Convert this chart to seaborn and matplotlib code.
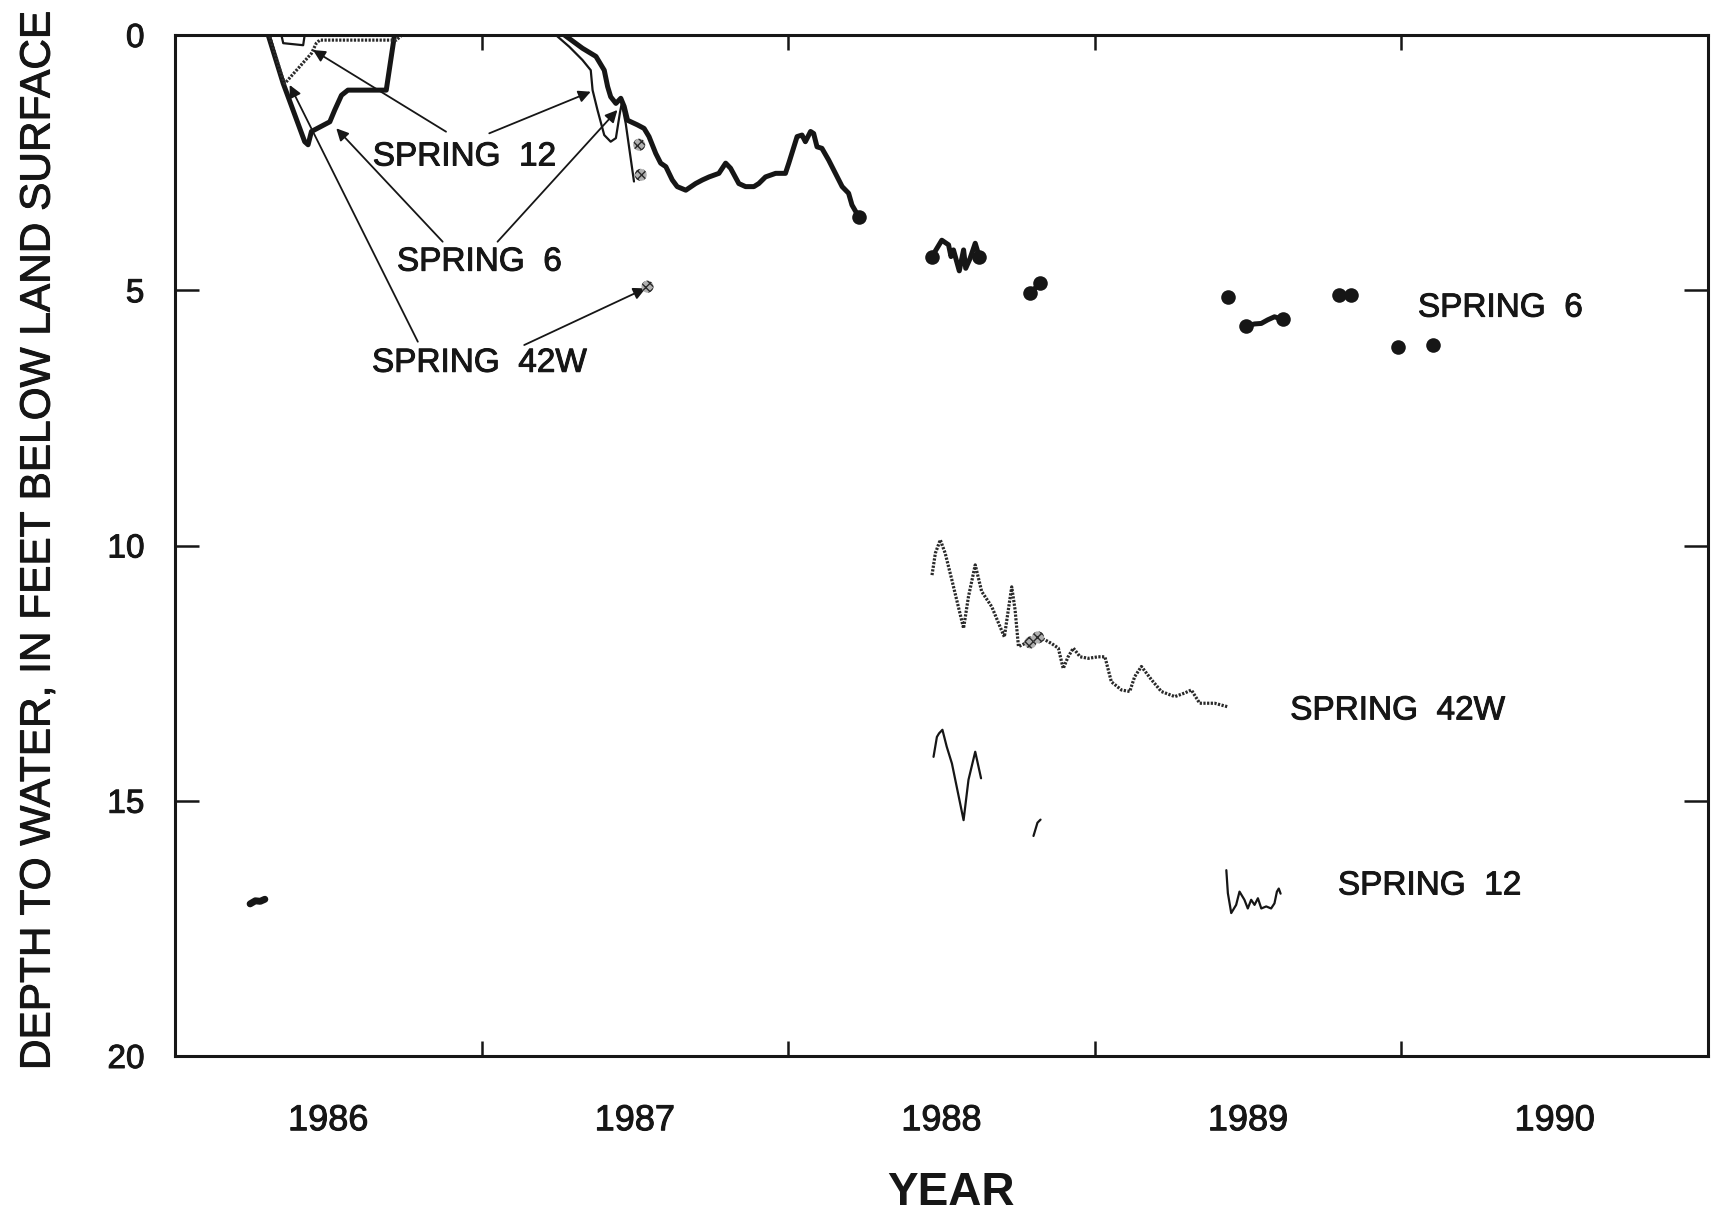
import numpy as np
import pandas as pd
import matplotlib
matplotlib.use("Agg")
import matplotlib.pyplot as plt
import matplotlib.patheffects as pe
from matplotlib import font_manager
from matplotlib.ticker import FixedLocator, NullFormatter, FixedFormatter
import seaborn as sns

# ---------------------------------------------------------------------------
# Depth to water (feet below land surface) at three springs, decimal years
# ---------------------------------------------------------------------------

# Spring 6 -- continuous record segments
S6_1986_YR = [1986.304, 1986.353, 1986.423, 1986.434, 1986.445, 1986.505,
              1986.521, 1986.543, 1986.564, 1986.689, 1986.716]
S6_1986_FT = [0.0, 0.95, 2.09, 2.15, 1.89, 1.70, 1.47, 1.18, 1.08, 1.08, 0.0]

S6_1987_YR = [1987.270, 1987.329, 1987.373, 1987.400, 1987.411, 1987.421,
              1987.438, 1987.454, 1987.465, 1987.476, 1987.508, 1987.530,
              1987.546, 1987.568, 1987.584, 1987.601, 1987.622, 1987.638,
              1987.666, 1987.698, 1987.720, 1987.742, 1987.774, 1987.796,
              1987.812, 1987.839, 1987.861, 1987.888, 1987.904, 1987.926,
              1987.959, 1987.991, 1988.002, 1988.029, 1988.045, 1988.056,
              1988.073, 1988.083, 1988.094, 1988.110, 1988.132, 1988.154,
              1988.176, 1988.197, 1988.208, 1988.230]
S6_1987_FT = [0.0, 0.26, 0.42, 0.69, 1.01, 1.21, 1.34, 1.24, 1.40, 1.67,
              1.76, 1.83, 1.99, 2.32, 2.51, 2.58, 2.84, 2.97, 3.04, 2.91,
              2.84, 2.78, 2.71, 2.51, 2.61, 2.91, 2.97, 2.97, 2.91, 2.78,
              2.71, 2.71, 2.51, 1.99, 1.96, 2.09, 1.89, 1.93, 2.19, 2.22,
              2.45, 2.71, 2.97, 3.10, 3.33, 3.56]

S6_1988A_YR = [1988.469, 1988.501, 1988.523, 1988.531, 1988.539, 1988.558,
               1988.572, 1988.579, 1988.593, 1988.610, 1988.623]
S6_1988A_FT = [4.34, 4.02, 4.11, 4.34, 4.21, 4.62, 4.21, 4.57, 4.38, 4.08, 4.34]

S6_1988B_YR = [1988.789, 1988.821]
S6_1988B_FT = [5.06, 4.86]

S6_1989A_YR = [1989.494, 1989.521, 1989.543, 1989.564, 1989.586, 1989.613]
S6_1989A_FT = [5.70, 5.66, 5.65, 5.58, 5.52, 5.57]

S6_1989B_YR = [1989.798, 1989.836]
S6_1989B_FT = [5.09, 5.09]

# Spring 6 -- individual measurements shown as dots
S6_DOT_YR = [1988.230, 1988.469, 1988.623, 1988.789, 1988.821, 1989.434,
             1989.494, 1989.613, 1989.798, 1989.836, 1989.988, 1990.102]
S6_DOT_FT = [3.56, 4.34, 4.34, 5.06, 4.86, 5.13,
             5.70, 5.57, 5.09, 5.09, 6.11, 6.07]

# Spring 12 -- thin solid record
S12_1986A_YR = [1986.245, 1986.262, 1986.278, 1986.293]
S12_1986A_FT = [17.02, 16.96, 16.97, 16.93]

S12_1986B_YR = [1986.347, 1986.353, 1986.418, 1986.423]
S12_1986B_FT = [0.0, 0.16, 0.20, 0.0]

S12_1987_YR = [1987.242, 1987.286, 1987.329, 1987.356, 1987.362, 1987.378,
               1987.400, 1987.421, 1987.438, 1987.451, 1987.457, 1987.470,
               1987.497]
S12_1987_FT = [0.0, 0.23, 0.49, 0.69, 1.08, 1.47, 1.96, 2.09, 2.02, 1.53,
               1.34, 1.73, 2.87]

S12_1988A_YR = [1988.474, 1988.485, 1988.492, 1988.503, 1988.517, 1988.534,
                1988.572, 1988.588, 1988.610, 1988.629]
S12_1988A_FT = [14.14, 13.75, 13.68, 13.61, 13.94, 14.27, 15.38, 14.59,
                14.04, 14.56]

S12_1988B_YR = [1988.800, 1988.813, 1988.823]
S12_1988B_FT = [15.69, 15.43, 15.37]

S12_1989_YR = [1989.429, 1989.434, 1989.445, 1989.461, 1989.472, 1989.488,
               1989.499, 1989.510, 1989.521, 1989.532, 1989.543, 1989.559,
               1989.575, 1989.586, 1989.594, 1989.600, 1989.606]
S12_1989_FT = [16.36, 16.81, 17.20, 17.04, 16.78, 16.94, 17.11, 16.94,
               17.04, 16.91, 17.11, 17.07, 17.11, 17.01, 16.78, 16.72, 16.82]

# Spring 42W -- fine dotted record
S42_1986_YR = [1986.309, 1986.347, 1986.358, 1986.445, 1986.461, 1986.472,
               1986.722, 1986.740]
S42_1986_FT = [0.03, 0.78, 0.95, 0.36, 0.16, 0.10, 0.10, 0.0]

S42_1988_YR = [1988.469, 1988.480, 1988.496, 1988.512, 1988.534, 1988.555,
               1988.572, 1988.588, 1988.610, 1988.631, 1988.664, 1988.686,
               1988.705, 1988.729, 1988.740, 1988.751, 1988.772, 1988.794,
               1988.816, 1988.838, 1988.859, 1988.881, 1988.897, 1988.913,
               1988.930, 1988.952, 1988.979, 1989.011, 1989.033, 1989.054,
               1989.087, 1989.114, 1989.130, 1989.152, 1989.185, 1989.217,
               1989.261, 1989.293, 1989.315, 1989.342, 1989.391, 1989.434]
S42_1988_FT = [10.58, 10.15, 9.89, 10.15, 10.68, 11.20, 11.62, 11.00, 10.38,
               10.90, 11.20, 11.52, 11.79, 10.81, 11.26, 11.98, 11.92, 11.85,
               11.79, 11.85, 11.92, 12.01, 12.41, 12.18, 12.01, 12.18, 12.21,
               12.18, 12.18, 12.67, 12.83, 12.86, 12.57, 12.37, 12.63, 12.86,
               12.96, 12.89, 12.83, 13.09, 13.09, 13.16]

# Spring 42W -- individual measurements
S42_DOT_YR = [1987.514, 1987.519, 1987.541, 1988.790, 1988.815]
S42_DOT_FT = [2.15, 2.74, 4.93, 11.90, 11.80]

# Axis ticks and labels
YEAR_BOUNDS = [1987, 1988, 1989, 1990]
YEAR_MIDS = [1986.5, 1987.5, 1988.5, 1989.5, 1990.5]
YEAR_LABELS = ["1986", "1987", "1988", "1989", "1990"]
DEPTH_TICKS = [0, 5, 10, 15, 20]

# Series labels: (text, x, y) and leader arrows: (text-end xy, arrow tip xy)
SERIES_LABELS = [
    ("SPRING  12", 1986.944, 2.39),
    ("SPRING  6", 1986.993, 4.45),
    ("SPRING  42W", 1986.993, 6.43),
    ("SPRING  6", 1990.323, 5.35),
    ("SPRING  42W", 1989.988, 13.24),
    ("SPRING  12", 1990.092, 16.67),
]
LEADERS = [
    ((1986.884, 1.894), (1986.450, 0.294)),
    ((1987.025, 1.926), (1987.356, 1.111)),
    ((1986.873, 4.049), (1986.526, 1.828)),
    ((1987.052, 4.049), (1987.443, 1.469)),
    ((1986.792, 6.008), (1986.374, 0.979)),
    ((1987.139, 6.073), (1987.535, 4.962)),
]

# ---------------------------------------------------------------------------
sns.set_style("white")
available = {f.name for f in font_manager.fontManager.ttflist}
SANS = "Liberation Sans" if "Liberation Sans" in available else "DejaVu Sans"
plt.rcParams["font.family"] = [SANS, "DejaVu Sans"]

INK = "#161616"
HEAVY = [pe.withStroke(linewidth=0.7, foreground=INK)]

fig = plt.figure(figsize=(17.11, 12.12), dpi=100)
fig.patch.set_facecolor("white")
ax = fig.add_axes([175 / 1711, 1 - 1056 / 1212, (1708 - 175) / 1711, (1056 - 35) / 1212])


def draw(xs, ys, **kw):
    sns.lineplot(x=xs, y=ys, sort=False, estimator=None, ax=ax, legend=False,
                 color=kw.pop("color", INK), **kw)


# Spring 6: heavy line
for xs, ys in [(S6_1986_YR, S6_1986_FT), (S6_1987_YR, S6_1987_FT),
               (S6_1988A_YR, S6_1988A_FT), (S6_1988B_YR, S6_1988B_FT),
               (S6_1989A_YR, S6_1989A_FT), (S6_1989B_YR, S6_1989B_FT)]:
    draw(xs, ys, linewidth=3.6, solid_joinstyle="round")
sns.scatterplot(x=S6_DOT_YR, y=S6_DOT_FT, ax=ax, color=INK, s=110,
                edgecolor=INK, linewidth=0, legend=False, zorder=4)

# Spring 12: thin solid line
for xs, ys in [(S12_1986B_YR, S12_1986B_FT), (S12_1987_YR, S12_1987_FT),
               (S12_1988A_YR, S12_1988A_FT), (S12_1988B_YR, S12_1988B_FT),
               (S12_1989_YR, S12_1989_FT)]:
    draw(xs, ys, linewidth=1.6)
draw(S12_1986A_YR, S12_1986A_FT, linewidth=5, solid_capstyle="round")

# Spring 42W: fine serrated (dotted) line with hatched point symbols
for xs, ys in [(S42_1986_YR, S42_1986_FT), (S42_1988_YR, S42_1988_FT)]:
    draw(xs, ys, linewidth=2.3, linestyle=(0, (0.7, 0.45)), color="#2a2a2a")
sns.scatterplot(x=S42_DOT_YR, y=S42_DOT_FT, ax=ax, s=75, facecolor="#b0b0b0",
                edgecolor="#2a2a2a", hatch="xxxx", linewidth=0,
                legend=False, zorder=4)

# Series labels and leader arrows
for text, x, y in SERIES_LABELS:
    ax.text(x, y, text, ha="center", va="center", fontsize=24, color=INK,
            path_effects=HEAVY)
for (x0, y0), (x1, y1) in LEADERS:
    ax.annotate("", xy=(x1, y1), xytext=(x0, y0),
                arrowprops=dict(arrowstyle="-|>", lw=1.3, color=INK,
                                mutation_scale=18, shrinkA=0, shrinkB=0))

# Axes limits, ticks and labels
ax.set_xlim(1986, 1991)
ax.set_ylim(20, 0)

ax.xaxis.set_major_locator(FixedLocator(YEAR_BOUNDS))
ax.xaxis.set_major_formatter(NullFormatter())
ax.xaxis.set_minor_locator(FixedLocator(YEAR_MIDS))
ax.xaxis.set_minor_formatter(FixedFormatter(YEAR_LABELS))
ax.tick_params(axis="x", which="major", direction="in", top=True, bottom=True,
               length=11, width=1.8, color=INK)
ax.tick_params(axis="x", which="minor", length=0, pad=34, labelsize=26,
               labelcolor=INK)

ax.set_yticks(DEPTH_TICKS)
ax.set_yticklabels([str(v) for v in DEPTH_TICKS])
ax.tick_params(axis="y", direction="in", left=True, right=True, length=17,
               width=1.8, color=INK, pad=22, labelsize=24, labelcolor=INK)

for lab in ax.get_xticklabels(minor=True) + ax.get_yticklabels():
    lab.set_path_effects(HEAVY)

for side in ["left", "right", "top", "bottom"]:
    ax.spines[side].set_visible(True)
    ax.spines[side].set_linewidth(2.2)
    ax.spines[side].set_color(INK)

ax.set_xlabel("YEAR", fontsize=33, fontweight="bold", color=INK)
ax.xaxis.set_label_coords(0.506, -0.134)
ax.xaxis.label.set_va("center")

ax.set_ylabel("DEPTH TO WATER, IN FEET BELOW LAND SURFACE", fontsize=30.5,
              color=INK, path_effects=HEAVY)
ax.yaxis.set_label_coords(-0.089, 0.505)
ax.yaxis.label.set_va("center")

fig.savefig("out.png", dpi=100, facecolor="white")
